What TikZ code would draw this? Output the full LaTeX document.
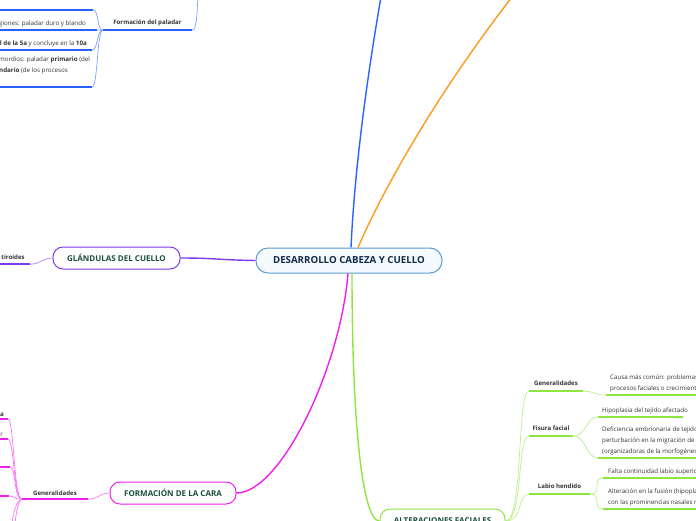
\documentclass[tikz,border=0pt]{standalone}
\usepackage{fontspec}
\setmainfont{Open Sans}
\usepackage{xcolor}
\usetikzlibrary{positioning}
\definecolor{rootborder}{HTML}{5B9BD5}
\definecolor{rootfill}{HTML}{F5FAFE}
\definecolor{roottext}{HTML}{13294B}
\definecolor{topictext}{HTML}{1B4D3E}
\definecolor{leaftext}{HTML}{333333}
\definecolor{palblue}{HTML}{2962FF}
\definecolor{orangebr}{HTML}{FF9A1A}
\definecolor{neckpurple}{HTML}{7C3AED}
\definecolor{facepink}{HTML}{F01EF0}
\definecolor{altgreen}{HTML}{8EE53F}

\tikzset{
  root/.style={draw=rootborder, fill=rootfill, line width=1pt, rounded corners=12pt,
    minimum width=186pt, minimum height=25pt, text=roottext,
    font=\fontsize{9.7}{10}\selectfont\bfseries},
  topic/.style={draw, line width=1pt, fill=white, rounded corners=10pt,
    minimum height=22pt, text=topictext, font=\fontsize{8}{9}\selectfont\bfseries},
  sublabel/.style={inner sep=0pt, minimum height=15pt, text=leaftext,
    font=\fontsize{6.1}{7}\selectfont\bfseries},
  leaf/.style={inner sep=0pt, align=left, text=leaftext,
    font=\fontsize{6.2}{11}\selectfont},
  under/.style={line width=1.8pt},
  twig/.style={line width=0.7pt},
  trunk/.style={line width=1.4pt}
}

\begin{document}
\begin{tikzpicture}[x=1pt, y=-1pt]
  \useasboundingbox (0,0) rectangle (696,520);

  % centre and main topics
  \node[root] (root) at (349,260.5) {DESARROLLO CABEZA Y CUELLO};
  \node[topic, draw=neckpurple, minimum width=127pt] (neck) at (116.5,258) {GLÁNDULAS DEL CUELLO};
  \node[topic, draw=facepink, minimum width=126pt] (face) at (173,493) {FORMACIÓN DE LA CARA};
  \node[topic, draw=altgreen, minimum width=125pt, minimum height=24pt] (alt) at (442.5,521) {ALTERACIONES FACIALES};

  \coordinate (upblue) at (381,-3);
  \coordinate (uporange) at (512,-3);
  \draw[trunk, palblue] ([xshift=2pt]root.north) .. controls (355,160) and (370,60) .. (upblue);
  \draw[trunk, orangebr] ([xshift=9pt]root.north) .. controls (385,185) and (440,90) .. (uporange);
  \draw[trunk, neckpurple] (root.west) .. controls (220,260) and (215,258) .. (neck.east);
  \draw[trunk, facepink] ([xshift=-1pt]root.south) .. controls (340,370) and (280,493) .. (face.east);
  \draw[trunk, altgreen] ([xshift=3pt]root.south) .. controls (352,420) and (362,521) .. (alt.west);

  % alteraciones faciales
  \node[sublabel, minimum width=54pt] (agen) at (556,383.5) {Generalidades};
  \node[sublabel, minimum width=44pt] (afis) at (551,428.5) {Fisura facial};
  \node[sublabel, minimum width=61pt] (alab) at (559.5,486.5) {Labio hendido};
  \foreach \n in {agen,afis,alab} {
    \draw[under, altgreen] (\n.south west) -- (\n.south east);
    \draw[twig, altgreen!60] (alt.east) .. controls +(18,0) and +(-12,0) .. (\n.south west);
  }

  \coordinate (lgen) at (606,395);
  \coordinate (lfis1) at (598,417);
  \coordinate (lfis2) at (598,458);
  \coordinate (llab1) at (603,478);
  \coordinate (llab2) at (603,509);
  \node[leaf, above right=3pt and 4pt of lgen] (tgen) {Causa más común: problemas\\procesos faciales o crecimiento};
  \node[leaf, above right=3pt and 4pt of lfis1] (tfis1) {Hipoplasia del tejido afectado};
  \node[leaf, above right=3pt and 4pt of lfis2] (tfis2) {Deficiencia embrionaria de tejido\\perturbación en la migración de c\\(organizadoras de la morfogénesi};
  \node[leaf, above right=3pt and 5pt of llab1] (tlab1) {Falta continuidad labio superior};
  \node[leaf, above right=3pt and 5pt of llab2] (tlab2) {Alteración en la fusión (hipoplas\\con las prominencias nasales m};
  \draw[under, altgreen] (lgen) -- ++(100,0);
  \draw[under, altgreen] (lfis1) -- ++(85,0);
  \foreach \c in {lfis2,llab1,llab2}
    \draw[under, altgreen] (\c) -- ++(100,0);
  \draw[twig, altgreen!60] (agen.south east) .. controls +(12,0) and +(-12,0) .. (lgen);
  \draw[twig, altgreen!60] (afis.south east) .. controls +(13,0) and +(-12,0) .. (lfis1);
  \draw[twig, altgreen!60] (afis.south east) .. controls +(13,0) and +(-12,0) .. (lfis2);
  \draw[twig, altgreen!60] (alab.south east) .. controls +(13,0) and +(-12,0) .. (llab1);
  \draw[twig, altgreen!60] (alab.south east) .. controls +(13,0) and +(-12,0) .. (llab2);

  % formacion del paladar
  \node[sublabel, minimum width=89pt, minimum height=14pt] (pal) at (147.5,23) {Formación del paladar};
  \coordinate (palup) at (198,-3);
  \draw[under, palblue] (pal.south west) -- (pal.south east);
  \draw[twig, palblue!60] (pal.south east) .. controls +(5,0) and +(-1,12) .. (palup);
  \coordinate (p0) at (93,10);
  \coordinate (p1) at (97,30);
  \coordinate (p2) at (92,50);
  \coordinate (p3) at (92,87);
  \node[leaf, above left=3pt and 11pt of p1] (tp1) {regiones: paladar duro y blando};
  \node[leaf, above left=3pt and 5pt of p2] (tp2) {\textbf{al de la 5a} y concluye en la \textbf{10a}};
  \node[leaf, anchor=north west] (tp3) at (-1,57) {mordios: paladar \textbf{primario} (del\\\textbf{ndario} (de los procesos};
  \foreach \c in {p0,p1,p2,p3} {
    \draw[under, palblue] (\c) -- ++(-100,0);
    \draw[twig, palblue!60] (pal.south west) .. controls +(-6,0) and +(6,0) .. (\c);
  }

  % glandulas del cuello
  \node[sublabel, minimum width=34pt, minimum height=14pt] (tiro) at (13,257) {tiroides};
  \draw[under, neckpurple] (tiro.south west) -- (tiro.south east);
  \draw[twig, neckpurple!60] (neck.west) .. controls +(-10,0) and +(10,0) .. (tiro.south east);

  % formacion de la cara
  \node[sublabel, minimum width=66pt, minimum height=12pt] (fgen) at (55,493) {Generalidades};
  \draw[under, facepink] (fgen.south west) -- (fgen.south east);
  \draw[twig, facepink!60] (face.west) .. controls +(-10,0) and +(10,0) .. (fgen.south east);
  \coordinate (f1) at (8,419);
  \coordinate (f2) at (8,439);
  \coordinate (f3) at (10,467);
  \coordinate (f4) at (9,496);
  \coordinate (f5) at (12,524);
  \coordinate (f6) at (15,524);
  \node[leaf, above left=2pt and 4pt of f1] (tf1) {\textbf{a}};
  \node[leaf, above left=2pt and 5pt of f2] (tf2) {r};
  \foreach \c in {f1,f2,f3,f4} {
    \draw[under, facepink] (\c) -- ++(-20,0);
    \draw[twig, facepink!60] (fgen.south west) .. controls +(-8,0) and +(6,0) .. (\c);
  }
  \draw[twig, facepink!60] (fgen.south west) .. controls +(-6,2) and +(1,-10) .. (f5);
  \draw[twig, facepink!60] (fgen.south west) .. controls +(-4,2) and +(1,-10) .. (f6);
\end{tikzpicture}
\end{document}
